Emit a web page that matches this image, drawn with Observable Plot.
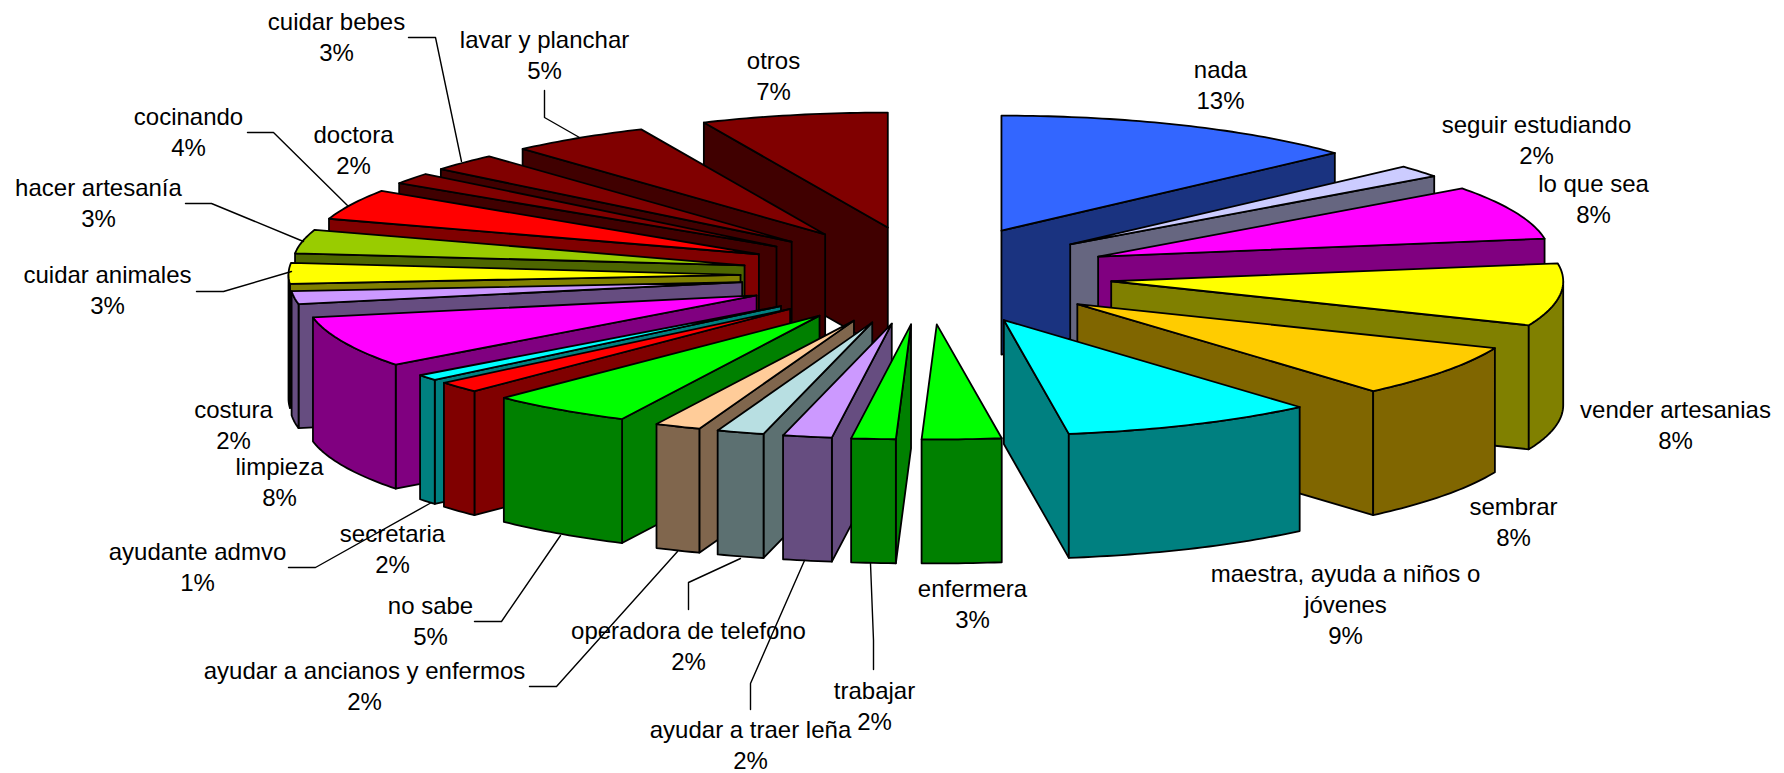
<!DOCTYPE html>
<html><head><meta charset="utf-8">
<script src="https://cdn.jsdelivr.net/npm/d3@7"></script>
<script src="https://cdn.jsdelivr.net/npm/@observablehq/plot@0.6"></script>
<style>html,body{margin:0;padding:0;background:#fff}svg{display:block}</style>
</head><body><div id="chart"></div>
<script>
// --- data, clockwise from 12 o'clock ---
const names = ["nada","seguir estudiando","lo que sea","vender artesanias","sembrar","maestra, ayuda a niños o\njóvenes","enfermera","trabajar","ayudar a traer leña","operadora de telefono","ayudar a ancianos y enfermos","no sabe","secretaria","ayudante admvo","limpieza","costura","cuidar animales","hacer artesanía","cocinando","doctora","cuidar bebes","lavar y planchar","otros"];
const percentLabels = ["13%","2%","8%","8%","8%","9%","3%","2%","2%","2%","2%","5%","2%","1%","8%","2%","3%","3%","4%","2%","3%","5%","7%"];
// slice sizes (share of the full circle, %)
const shares = [13.2,1.7,7.6,8.75,7.39,9.06,2.83,1.58,1.75,1.69,1.64,5.11,1.58,0.83,7.22,1.81,2.92,3.33,4.28,1.58,2.47,5.0,6.67];
const topColors = ["#3366FF","#CCCCFF","#FF00FF","#FFFF00","#FFCC00","#00FFFF","#00FF00","#00FF00","#CC99FF","#B8DFE2","#FFCC99","#00FF00","#FF0000","#00FFFF","#FF00FF","#CC99FF","#FFFF00","#99CC00","#FF0000","#800000","#800000","#800000","#800000"];
const wallColors = ["#1A3380","#666680","#800080","#808000","#806600","#008080","#008000","#008000","#664D80","#5C7071","#80664D","#008000","#800000","#008080","#800080","#664D80","#808000","#4D6600","#800000","#400000","#400000","#400000","#400000"];

// --- layout (chart units) ---
const pie = {cx:926, cy:275, rx:452, ry:115, ex:186, ey:49, depth:124};
const labelX = [1220,1536,1593,1675,1513,1345,972,874,750,688,364,430,392,197,279,233,107,98,188,353,336,544,773];
const labelY = [70,125,184,410,507,574,589,691,730,631,671,606,534,552,467,410,275,188,117,135,22,40,61];
const lineStep = 31;
const leaders = [
  [[408,37],[435,37],[461,161]],
  [[544,90],[544,117],[579,137]],
  [[247,132],[273,132],[347,205]],
  [[185,203],[211,203],[303,241]],
  [[196,291],[223,291],[291,271]],
  [[288,567],[315,567],[431,502]],
  [[474,621],[501,621],[560,535]],
  [[529,686],[556,686],[677,551]],
  [[688,609],[688,582],[740,558]],
  [[750,709],[750,683],[804,560]],
  [[873,669],[873,640],[870,563]]
];

// --- build the faces of the exploded 3-D pie from the shares ---
const total = d3.sum(shares);
const rad = d => d * Math.PI / 180;
let cum = 0;
const slices = shares.map((s, i) => {
  const a0 = cum / total * 360; cum += s;
  const a1 = cum / total * 360;
  const mid = (a0 + a1) / 2;
  return {i, a0, a1, mid,
    ax: pie.cx + pie.ex * Math.sin(rad(mid)),
    ay: pie.cy - pie.ey * Math.cos(rad(mid))};
});
const rim = (s, a, dz = 0) => [s.ax + pie.rx * Math.sin(rad(a)), s.ay - pie.ry * Math.cos(rad(a)) + dz];
const arc = (s, from, to, dz = 0) => {
  const pts = [], n = Math.max(2, Math.ceil(to - from));
  for (let k = 0; k <= n; k++) pts.push(rim(s, from + (to - from) * k / n, dz));
  return pts;
};
const faces = [];
const addFace = (pts, fill) => {
  const id = faces.length ? faces[faces.length - 1].id + 1 : 0;
  [...pts, pts[0]].forEach(p => faces.push({id, x: p[0], y: p[1], fill}));
};
// back to front
[...slices].sort((a, b) => Math.cos(rad(b.mid)) - Math.cos(rad(a.mid))).forEach(s => {
  const wall = wallColors[s.i], apex = [s.ax, s.ay], apexLow = [s.ax, s.ay + pie.depth];
  if (Math.sin(rad(s.a0)) < 0) addFace([apex, rim(s, s.a0), rim(s, s.a0, pie.depth), apexLow], wall);
  if (Math.sin(rad(s.a1)) > 0) addFace([apex, rim(s, s.a1), rim(s, s.a1, pie.depth), apexLow], wall);
  const from = Math.max(s.a0, 90), to = Math.min(s.a1, 270);
  if (to > from) addFace([...arc(s, from, to), ...arc(s, from, to, pie.depth).reverse()], wall);
  addFace([apex, ...arc(s, s.a0, s.a1)], topColors[s.i]);
});

const labelRows = names.flatMap((n, i) =>
  [...n.split("\n"), percentLabels[i]].map((text, k) => ({text, x: labelX[i], y: labelY[i] + k * lineStep})));
const leaderRows = leaders.flatMap((l, id) => l.map(p => ({id, x: p[0], y: p[1]})));

const chart = Plot.plot({
  width: 1784, height: 773, margin: 0,
  x: {domain: [0, 1784], range: [0, 1784], axis: null},
  y: {domain: [0, 773], range: [0, 773], axis: null},
  color: {type: "identity"},
  style: {background: "#fff"},
  marks: [
    Plot.line(faces, {x: "x", y: "y", z: "id", fill: "fill", stroke: "#000", strokeWidth: 1.8, curve: "linear", strokeLinejoin: "round", strokeOpacity: 1}),
    Plot.line(leaderRows, {x: "x", y: "y", z: "id", stroke: "#000", strokeWidth: 1.4, curve: "linear"}),
    Plot.text(labelRows, {x: "x", y: "y", text: "text", fontFamily: "'Liberation Sans', Arial, sans-serif", fontSize: 24, fill: "#000", textAnchor: "middle", lineAnchor: "middle"})
  ]
});
document.getElementById("chart").append(chart);
</script>
</body></html>
